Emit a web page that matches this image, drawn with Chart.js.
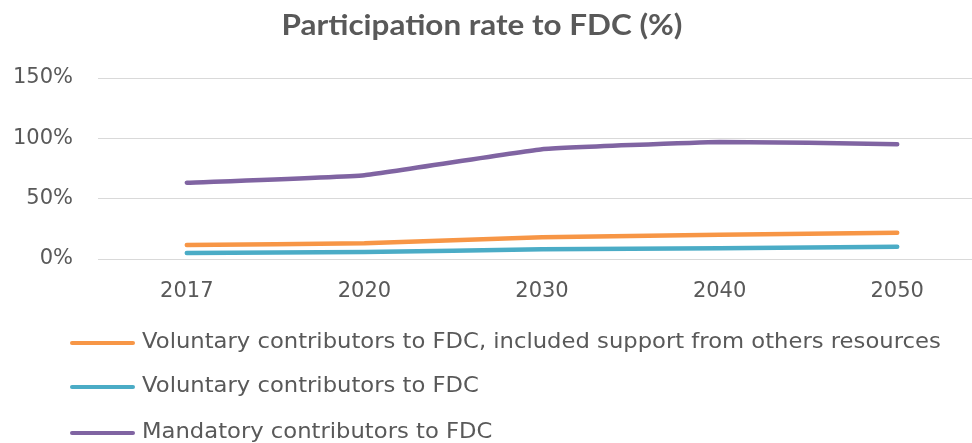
<!DOCTYPE html>
<html><head><meta charset="utf-8">
<script src="https://cdn.jsdelivr.net/npm/chart.js@4/dist/chart.umd.min.js"></script>
<style>
html,body{margin:0;padding:0;background:#fff;overflow:hidden;width:972px;height:443px;}
#wrap{position:relative;width:990px;height:443px;}
</style></head><body>
<div id="wrap"><canvas id="c"></canvas></div>
<script>
const chartTitle = 'Participation rate to FDC (%)';
const categories = ['2017', '2020', '2030', '2040', '2050'];
const seriesNames = [
  'Voluntary contributors to FDC, included support from others resources',
  'Voluntary contributors to FDC',
  'Mandatory contributors to FDC'
];
const voluntaryIncluded = [11.6, 13, 18, 20, 21.8];
const voluntary = [5, 5.8, 8, 9, 10.2];
const mandatory = [63.2, 69.5, 91, 97, 95.2];
const yTicks = [0, 50, 100, 150];
const seriesColors = ['#F79646', '#4BACC6', '#8064A2'];

const TEXT = '#595959';
const TITLE_FONT = 'Lato, "DejaVu Sans", sans-serif';
const FONT = '"DejaVu Sans", "Open Sans", sans-serif';

const titlePlugin = {
  id: 'xlTitle',
  afterDraw(chart) {
    const ctx = chart.ctx;
    ctx.save();
    ctx.font = 'bold 29px ' + TITLE_FONT;
    const w = ctx.measureText(chartTitle).width;
    const sx = w > 0 ? 401 / w : 1;
    ctx.translate(482, 35);
    ctx.scale(sx, 1);
    ctx.fillStyle = TEXT;
    ctx.textAlign = 'center';
    ctx.textBaseline = 'alphabetic';
    ctx.fillText(chartTitle, 0, 0);
    ctx.restore();
  }
};

const legendPlugin = {
  id: 'xlLegend',
  afterDraw(chart) {
    const ctx = chart.ctx;
    const rows = [343, 387, 433];
    const stretch = 1.08;
    chart.data.datasets.forEach((ds, i) => {
      const y = rows[i];
      ctx.save();
      ctx.strokeStyle = ds.borderColor;
      ctx.lineWidth = 4;
      ctx.lineCap = 'round';
      ctx.beginPath();
      ctx.moveTo(72, y);
      ctx.lineTo(133, y);
      ctx.stroke();
      ctx.translate(142, y);
      ctx.scale(stretch, 1);
      ctx.font = '21px ' + FONT;
      ctx.fillStyle = TEXT;
      ctx.textAlign = 'left';
      ctx.textBaseline = 'middle';
      ctx.fillText(ds.label, 0, 0);
      ctx.restore();
    });
  }
};

function build() {
  new Chart(document.getElementById('c'), {
    type: 'line',
    data: {
      labels: categories,
      datasets: [
        { label: seriesNames[0], data: voluntaryIncluded, borderColor: seriesColors[0] },
        { label: seriesNames[1], data: voluntary, borderColor: seriesColors[1] },
        { label: seriesNames[2], data: mandatory, borderColor: seriesColors[2] }
      ].map(d => Object.assign(d, {
        borderWidth: 4.5, pointRadius: 0, tension: 0.1,
        borderCapStyle: 'round', borderJoinStyle: 'round', fill: false
      }))
    },
    options: {
      responsive: true,
      maintainAspectRatio: false,
      animation: false,
      layout: { padding: { top: 78, left: 0, right: 4, bottom: 124 } },
      plugins: { legend: { display: false }, title: { display: false }, tooltip: { enabled: false } },
      scales: {
        x: {
          offset: true,
          grid: { display: false, drawTicks: false },
          border: { display: false },
          ticks: { color: TEXT, font: { family: FONT, size: 21 }, padding: 20 },
          afterFit(s) { s.height = 60; }
        },
        y: {
          min: yTicks[0], max: yTicks[yTicks.length - 1],
          afterBuildTicks(s) { s.ticks = yTicks.map(v => ({ value: v })); },
          grid: { color: '#D9D9D9', lineWidth: 1, drawTicks: false },
          border: { display: false },
          ticks: { color: TEXT, font: { family: FONT, size: 21 }, padding: 25, callback: v => v + '%' },
          afterFit(s) { s.width = 98; }
        }
      }
    },
    plugins: [titlePlugin, legendPlugin]
  });
}

Promise.all([
  document.fonts.load('21px "DejaVu Sans"'),
  document.fonts.load('bold 29px Lato')
]).then(build, build);
</script>
</body></html>
